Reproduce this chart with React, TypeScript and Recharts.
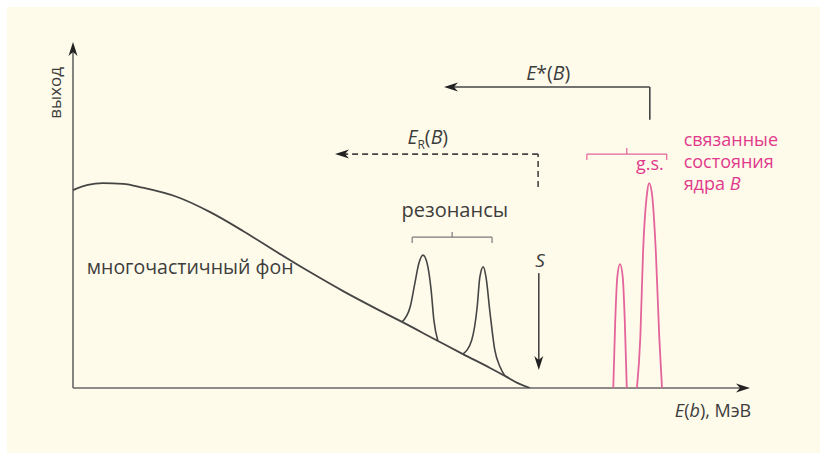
import { ComposedChart, Line, XAxis, YAxis, ReferenceLine, ReferenceDot } from 'recharts';

// many-body background (energy, yield)
const bgEnergy = [0, 0.22, 0.44, 0.74, 1.03, 1.54, 2.02, 2.51, 3.01, 3.5, 3.99, 4.49, 4.86, 5.39, 5.76, 6.16, 6.38, 6.57, 6.75];
const bgYield = [5.72, 5.87, 5.92, 5.9, 5.79, 5.52, 5.09, 4.54, 3.93, 3.35, 2.8, 2.28, 1.91, 1.36, 0.98, 0.58, 0.35, 0.14, 0];

// resonances on top of the background
const res1Energy = [4.86, 4.98, 5.05, 5.11, 5.17, 5.23, 5.29, 5.33, 5.39];
const res1Yield = [1.91, 2.34, 3.03, 3.61, 3.84, 3.61, 2.83, 1.97, 1.36];
const res2Energy = [5.76, 5.89, 5.97, 6.01, 6.06, 6.1, 6.16, 6.23, 6.31, 6.38];
const res2Yield = [0.98, 1.39, 2.34, 3.21, 3.5, 3.21, 2.17, 1.1, 0.6, 0.35];

// bound states of nucleus B
const bound1Energy = [7.98, 8.01, 8.04, 8.08, 8.12, 8.15, 8.18];
const bound1Yield = [0, 1.97, 3.21, 3.58, 3.21, 1.97, 0];
const gsEnergy = [8.33, 8.38, 8.42, 8.48, 8.51, 8.55, 8.61, 8.66, 8.7];
const gsYield = [0, 1.47, 3.9, 5.64, 5.92, 5.64, 3.9, 1.47, 0];

const zip = (xs: number[], ys: number[]) => xs.map((e, i) => ({ e, y: ys[i] }));

const DARK = '#454545';
const TEXT = '#3d3d3d';
const PINK_LINE = '#e4649c';
const PINK_TEXT = '#df3a8c';
const FONT = '"Open Sans", sans-serif';

function Arrow(props: any) {
  const { x1, y1, x2, y2, stroke, dashed, head = true } = props;
  const dx = x2 - x1;
  const dy = y2 - y1;
  const len = Math.sqrt(dx * dx + dy * dy) || 1;
  const ux = dx / len;
  const uy = dy / len;
  const hl = 14;
  const hw = 4.5;
  const bx = x2 - ux * hl;
  const by = y2 - uy * hl;
  const nx = x2 - ux * (hl - 4);
  const ny = y2 - uy * (hl - 4);
  const ex = head ? nx : x2;
  const ey = head ? ny : y2;
  return (
    <g>
      <line x1={x1} y1={y1} x2={ex} y2={ey} stroke={stroke} strokeWidth={1.6} strokeDasharray={dashed ? '6 4' : undefined} />
      {head && (
        <polygon
          points={`${x2},${y2} ${bx - uy * hw},${by + ux * hw} ${nx},${ny} ${bx + uy * hw},${by - ux * hw}`}
          fill="#222"
        />
      )}
    </g>
  );
}

const textAt = (content: any, opts: any = {}) => (p: any) => (
  <text
    x={p.cx}
    y={p.cy}
    fill={opts.fill ?? TEXT}
    fontSize={opts.size ?? 18}
    fontFamily={FONT}
    textAnchor={opts.anchor ?? 'middle'}
    transform={opts.rotate ? `rotate(${opts.rotate} ${p.cx} ${p.cy})` : undefined}
    dominantBaseline={opts.baseline}
  >
    {content}
  </text>
);

const seg = (x1: number, y1: number, x2: number, y2: number) => [{ x: x1, y: y1 }, { x: x2, y: y2 }];

export default function App() {
  return (
    <div style={{ position: 'absolute', left: 0, top: 0, width: 826, height: 458, background: '#ffffff' }}>
      <div style={{ position: 'absolute', left: 7, top: 7, width: 813, height: 446, background: '#fffbea' }} />
      <div style={{ position: 'absolute', left: 0, top: 0 }}>
        <ComposedChart width={826} height={458} margin={{ top: 42, right: 76, bottom: 70, left: 73 }}>
          <XAxis type="number" dataKey="e" domain={[0, 10]} hide allowDataOverflow />
          <YAxis type="number" dataKey="y" domain={[0, 10]} hide allowDataOverflow />

          {/* axes */}
          <ReferenceLine segment={seg(0, 0, 10, 0)} ifOverflow="visible" shape={(p: any) => <Arrow {...p} stroke="#666" />} />
          <ReferenceLine segment={seg(0, 0, 0, 10)} ifOverflow="visible" shape={(p: any) => <Arrow {...p} stroke="#666" />} />

          <Line data={zip(bgEnergy, bgYield)} dataKey="y" type="monotone" dot={false} stroke={DARK} strokeWidth={1.8} isAnimationActive={false} />
          <Line data={zip(res1Energy, res1Yield)} dataKey="y" type="monotone" dot={false} stroke={DARK} strokeWidth={1.6} isAnimationActive={false} />
          <Line data={zip(res2Energy, res2Yield)} dataKey="y" type="monotone" dot={false} stroke={DARK} strokeWidth={1.6} isAnimationActive={false} />
          <Line data={zip(bound1Energy, bound1Yield)} dataKey="y" type="monotone" dot={false} stroke={PINK_LINE} strokeWidth={1.8} isAnimationActive={false} />
          <Line data={zip(gsEnergy, gsYield)} dataKey="y" type="monotone" dot={false} stroke={PINK_LINE} strokeWidth={1.8} isAnimationActive={false} />

          {/* E*(B) arrow */}
          <ReferenceLine segment={seg(8.52, 7.75, 8.52, 8.7)} ifOverflow="visible" shape={(p: any) => <Arrow {...p} stroke={DARK} head={false} />} />
          <ReferenceLine segment={seg(8.52, 8.7, 5.48, 8.7)} ifOverflow="visible" shape={(p: any) => <Arrow {...p} stroke={DARK} />} />
          {/* E_R(B) dashed arrow */}
          <ReferenceLine segment={seg(6.87, 5.81, 6.87, 6.76)} ifOverflow="visible" shape={(p: any) => <Arrow {...p} stroke={DARK} dashed head={false} />} />
          <ReferenceLine segment={seg(6.87, 6.76, 3.87, 6.76)} ifOverflow="visible" shape={(p: any) => <Arrow {...p} stroke={DARK} dashed />} />
          {/* S arrow */}
          <ReferenceLine segment={seg(6.88, 3.32, 6.88, 0.52)} ifOverflow="visible" shape={(p: any) => <Arrow {...p} stroke={DARK} />} />

          {/* resonance bracket */}
          <ReferenceLine segment={seg(5.01, 4.36, 6.19, 4.36)} stroke="#7a7a7a" strokeWidth={1.2} ifOverflow="visible" />
          <ReferenceLine segment={seg(5.01, 4.36, 5.01, 4.19)} stroke="#7a7a7a" strokeWidth={1.2} ifOverflow="visible" />
          <ReferenceLine segment={seg(6.19, 4.36, 6.19, 4.19)} stroke="#7a7a7a" strokeWidth={1.2} ifOverflow="visible" />
          <ReferenceLine segment={seg(5.6, 4.36, 5.6, 4.51)} stroke="#7a7a7a" strokeWidth={1.2} ifOverflow="visible" />
          {/* bound-state bracket */}
          <ReferenceLine segment={seg(7.59, 6.76, 8.77, 6.76)} stroke={PINK_LINE} strokeWidth={1.2} ifOverflow="visible" />
          <ReferenceLine segment={seg(7.59, 6.76, 7.59, 6.59)} stroke={PINK_LINE} strokeWidth={1.2} ifOverflow="visible" />
          <ReferenceLine segment={seg(8.77, 6.76, 8.77, 6.59)} stroke={PINK_LINE} strokeWidth={1.2} ifOverflow="visible" />
          <ReferenceLine segment={seg(8.18, 6.76, 8.18, 6.94)} stroke={PINK_LINE} strokeWidth={1.2} ifOverflow="visible" />

          {/* labels */}
          <ReferenceDot x={-0.27} y={8.53} r={0} ifOverflow="visible" shape={textAt('выход', { rotate: -90, baseline: 'central', size: 17 })} />
          <ReferenceDot
            x={7.02} y={8.9} r={0} ifOverflow="visible"
            shape={textAt(<><tspan fontStyle="italic">E</tspan>*(<tspan fontStyle="italic">B</tspan>)</>, { size: 19.5 })}
          />
          <ReferenceDot
            x={5.24} y={7.05} r={0} ifOverflow="visible"
            shape={textAt(<><tspan fontStyle="italic">E</tspan><tspan fontSize={12} dy={5}>R</tspan><tspan dy={-5}>(</tspan><tspan fontStyle="italic">B</tspan>)</>, { size: 19.5 })}
          />
          <ReferenceDot x={5.64} y={4.94} r={0} ifOverflow="visible" shape={textAt('резонансы', { size: 20 })} />
          <ReferenceDot x={1.73} y={3.29} r={0} ifOverflow="visible" shape={textAt('многочастичный фон', { size: 19.5 })} />
          <ReferenceDot x={6.9} y={3.5} r={0} ifOverflow="visible" shape={textAt(<tspan fontStyle="italic">S</tspan>, { size: 19 })} />
          <ReferenceDot x={8.52} y={6.3} r={0} ifOverflow="visible" shape={textAt('g.s.', { fill: PINK_TEXT })} />
          <ReferenceDot x={9.02} y={6.99} r={0} ifOverflow="visible" shape={textAt('связанные', { fill: PINK_TEXT, anchor: 'start' })} />
          <ReferenceDot x={9.02} y={6.36} r={0} ifOverflow="visible" shape={textAt('состояния', { fill: PINK_TEXT, anchor: 'start' })} />
          <ReferenceDot
            x={9.02} y={5.72} r={0} ifOverflow="visible"
            shape={textAt(<>ядра <tspan fontStyle="italic">B</tspan></>, { fill: PINK_TEXT, anchor: 'start' })}
          />
          <ReferenceDot
            x={8.89} y={-0.84} r={0} ifOverflow="visible"
            shape={textAt(<><tspan fontStyle="italic">E</tspan>(<tspan fontStyle="italic">b</tspan>), МэВ</>, { anchor: 'start' })}
          />
        </ComposedChart>
      </div>
    </div>
  );
}
